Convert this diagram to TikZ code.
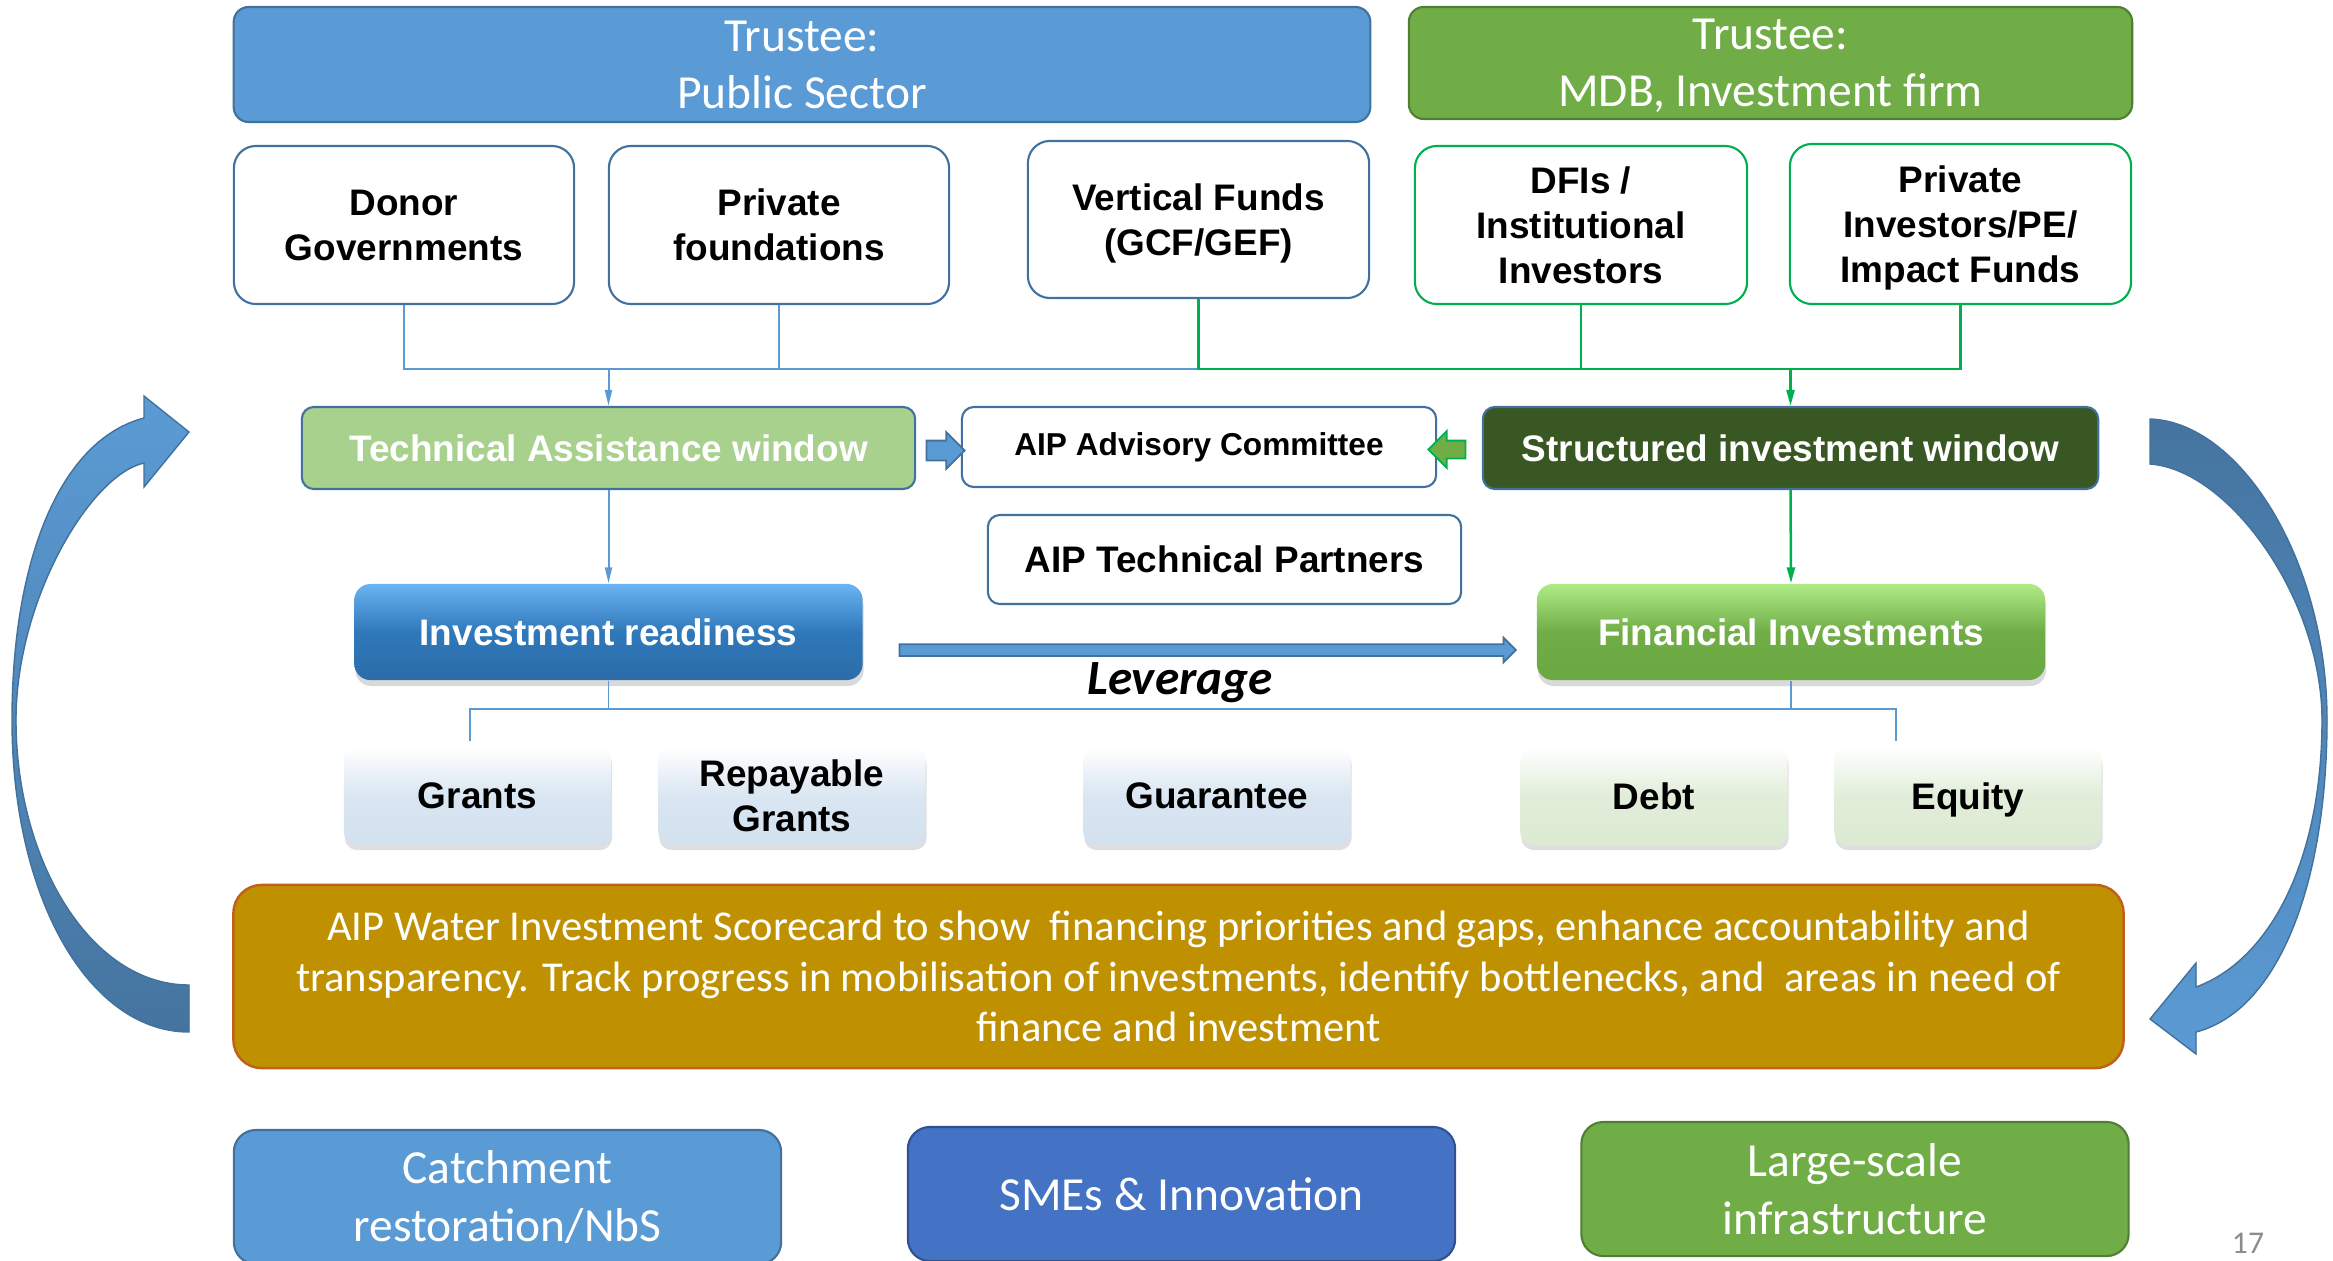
\documentclass[tikz,border=0pt]{standalone}
\usepackage{fontspec}
\setmainfont{Liberation Sans}
\newfontfamily\calibri{Carlito}
\usetikzlibrary{arrows.meta,shapes.arrows,shadows,calc}

\definecolor{pubblue}{HTML}{5B9BD5}
\definecolor{pubedge}{HTML}{41719C}
\definecolor{mdbgreen}{HTML}{70AD47}
\definecolor{mdbedge}{HTML}{507E32}
\definecolor{srcgreen}{HTML}{00B050}
\definecolor{tafill}{HTML}{A9D18E}
\definecolor{sifill}{HTML}{385723}
\definecolor{cardfill}{HTML}{BF9000}
\definecolor{cardedge}{HTML}{C0601A}
\definecolor{smeblue}{HTML}{4472C4}
\definecolor{smeedge}{HTML}{2F528F}
\definecolor{curvedark}{HTML}{45749F}
\definecolor{tileblue}{HTML}{D3E1EF}
\definecolor{tilegreen}{HTML}{DCEAD2}
\definecolor{readytop}{HTML}{6BB3F2}
\definecolor{readymid}{HTML}{2F78BA}
\definecolor{readybot}{HTML}{2C6CA9}
\definecolor{fintop}{HTML}{B0EC86}
\definecolor{finbot}{HTML}{6AA842}
\definecolor{pagegray}{HTML}{8C8C8C}

\begin{document}
\begin{tikzpicture}[x=0.01cm, y=-0.01cm,
  trustbox/.style={rounded corners=0.15cm, line width=0.6pt, text=white, align=center, inner sep=0pt, text depth=0pt, font=\calibri\fontsize{13.5}{16.2}\selectfont},
  srcbox/.style={draw=pubedge, fill=white, rounded corners=0.22cm, line width=0.6pt, align=center, inner sep=0pt, text depth=0pt, minimum width=3.4cm, minimum height=1.58cm, font=\bfseries\fontsize{10.5}{12.8}\selectfont},
  winbox/.style={draw=pubedge, rounded corners=0.12cm, line width=0.6pt, align=center, inner sep=0pt, minimum height=0.81cm, font=\bfseries\fontsize{10.5}{12.8}\selectfont},
  bevel/.style={rounded corners=0.16cm, align=center, inner sep=0pt, minimum width=5.08cm, minimum height=0.96cm, text=white, font=\bfseries\fontsize{10.5}{12.8}\selectfont, drop shadow={shadow xshift=0.01cm, shadow yshift=-0.06cm, opacity=0.3}},
  tile/.style={rounded corners=0.12cm, align=center, inner sep=0pt, text depth=0pt, minimum width=2.67cm, minimum height=0.98cm, font=\bfseries\fontsize{10.5}{12.8}\selectfont, drop shadow={shadow xshift=0.01cm, shadow yshift=-0.05cm, opacity=0.25}},
  bluetile/.style={tile, top color=white, bottom color=tileblue, middle color=tileblue!85!white},
  greentile/.style={tile, top color=white, bottom color=tilegreen, middle color=tilegreen!85!white},
  outbox/.style={rounded corners=0.22cm, line width=0.6pt, text=white, align=center, inner sep=0pt, minimum width=5.47cm, minimum height=1.34cm, font=\calibri\fontsize{13.5}{16.5}\selectfont},
  bline/.style={draw=pubblue, line width=0.02cm},
  gline/.style={draw=srcgreen, line width=0.025cm},
  tline/.style={draw=pubblue, line width=0.015cm},
  blockarr/.style={single arrow, inner xsep=0pt, line width=0.5pt},
  bigcurve/.style={draw=pubedge, line width=0.4pt}
]

\begin{scope}[scale=1]

\useasboundingbox (0,0) rectangle (2333,1260);

\node[trustbox, fill=pubblue, draw=pubedge, minimum width=11.36cm, minimum height=1.15cm] (pubtrust) at (802,64.5) {Trustee:\\Public Sector};
\node[trustbox, fill=mdbgreen, draw=mdbedge, minimum width=7.23cm, minimum height=1.12cm] (mdbtrust) at (1770.5,63) {Trustee:\\MDB, Investment firm};

\foreach \nm/\cx/\txt in {donor/404/{Donor\\Governments}, privfound/779/{Private\\foundations}}
\node[srcbox] (\nm) at (\cx,225) {\txt};
\node[srcbox, minimum width=3.41cm, minimum height=1.57cm] (vertical) at (1198.5,219.5) {Vertical Funds\\(GCF/GEF)};
\node[srcbox, draw=srcgreen, minimum width=3.32cm] (dfi) at (1581,225) {DFIs /\\Institutional\\Investors};
\node[srcbox, draw=srcgreen, minimum width=3.41cm, minimum height=1.6cm] (privinv) at (1960.5,224) {Private\\Investors/PE/\\Impact Funds};

\coordinate (bus) at (0,369);
\draw[bline] (donor.south) |- (vertical.south |- bus);
\draw[bline] (privfound.south) -- (privfound.south |- bus);
\draw[gline] (vertical.south) |- (privinv.south |- bus) -- (privinv.south);
\draw[gline] (dfi.south) -- (dfi.south |- bus);

\node[winbox, fill=tafill, text=white, minimum width=6.13cm, minimum height=0.82cm] (tawin) at (608.5,448) {Technical Assistance window};
\node[winbox, fill=white, minimum width=4.74cm, minimum height=0.8cm, font=\bfseries\fontsize{9}{11}\selectfont] (advisory) at (1199,447) {AIP Advisory Committee};
\node[winbox, fill=sifill, text=white, minimum width=6.15cm, minimum height=0.82cm] (siwin) at (1790.5,448) {Structured investment window};

\draw[bline, -{Triangle[length=0.16cm, width=0.07cm]}] (tawin.north |- bus) -- (tawin.north);
\draw[gline, -{Triangle[length=0.16cm, width=0.08cm]}] (siwin.north |- bus) -- (siwin.north);

\node[blockarr, draw=pubedge, fill=pubblue, inner ysep=0.09cm, single arrow head extend=0.085cm, minimum height=0.38cm, anchor=tip] (taarrow) at ([xshift=0.05cm, yshift=-0.035cm]advisory.west) {};
\node[blockarr, draw=srcgreen, fill=mdbgreen, inner ysep=0.08cm, single arrow head extend=0.095cm, minimum height=0.37cm, shape border rotate=180, anchor=tip] (siarrow) at ([xshift=-0.1cm, yshift=-0.025cm]advisory.east) {};

\node[winbox, fill=white, minimum width=4.73cm, minimum height=0.89cm] (techpart) at (1224.5,559.5) {AIP Technical Partners};

\node[bevel, top color=readytop, bottom color=readybot, middle color=readymid] (readiness) at (608.5,632) {Investment readiness};
\node[bevel, top color=fintop, bottom color=finbot, middle color=mdbgreen] (fininv) at (1791,632) {Financial Investments};

\draw[bline, -{Triangle[length=0.16cm, width=0.07cm]}] (tawin.south) -- (readiness.north);
\draw[gline, -{Triangle[length=0.16cm, width=0.08cm]}] (siwin.south) -- (fininv.north);

\node[blockarr, draw=pubedge, fill=pubblue, inner ysep=0.05cm, single arrow head extend=0.065cm, minimum height=6.16cm] (leverage) at ($(readiness.east)!0.5!(fininv.west)+(5,18)$) {};
\node[font=\calibri\bfseries\itshape\fontsize{14}{16}\selectfont, inner sep=0pt] (levlabel) at (1180,683) {Leverage};

\coordinate (treeleft) at (470,709);
\coordinate (treeright) at (1896,709);
\coordinate (legleft) at (470,741);
\coordinate (legright) at (1896,741);
\draw[tline] (legleft) -- (treeleft) -- (treeright) -- (legright);
\draw[tline] (readiness.south) -- (readiness.south |- treeleft);
\draw[tline] (fininv.south) -- (fininv.south |- treeright);

\foreach \nm/\cx/\txt/\sty in {grants/477.5/Grants/bluetile, repay/792/{Repayable\\Grants}/bluetile, guarantee/1217/Guarantee/bluetile, debt/1654/Debt/greentile, equity/1968/Equity/greentile}
\node[\sty] (\nm) at (\cx,796) {\txt};

\node[draw=cardedge, fill=cardfill, line width=0.7pt, rounded corners=0.28cm, minimum width=18.89cm, minimum height=1.83cm, inner sep=0pt, align=center, text=white, font=\calibri\fontsize{12.1}{14.3}\selectfont] (scorecard) at (1178.5,976.5) {AIP Water Investment Scorecard to show\ \ financing priorities and gaps, enhance accountability and\\transparency. Track progress in mobilisation of investments, identify bottlenecks, and\ \ areas in need of\\finance and investment};

\fill[bigcurve, top color=pubblue, bottom color=curvedark] (189,1032) .. controls (90,1032) and (12,900) .. (12,720) .. controls (12,560) and (60,440) .. (144,418) -- (144,396) -- (189,432) -- (144,487) -- (144,463) .. controls (90,475) and (16,600) .. (16,720) .. controls (16,860) and (90,985) .. (189,985) -- cycle;
\fill[bigcurve, top color=curvedark, bottom color=pubblue] (2150,419) .. controls (2240,422) and (2327,560) .. (2327,720) .. controls (2327,880) and (2280,1010) .. (2196,1032) -- (2196,1054) -- (2150,1019) -- (2196,963) -- (2196,987) .. controls (2270,960) and (2322,860) .. (2322,720) .. controls (2322,600) and (2230,470) .. (2150,464) -- cycle;

\node[outbox, fill=pubblue, draw=pubedge] (catchment) at (507.5,1197) {Catchment\\restoration/NbS};
\node[outbox, fill=smeblue, draw=smeedge] (smes) at (1181.5,1194) {SMEs \& Innovation};
\node[outbox, fill=mdbgreen, draw=mdbedge] (largescale) at (1855,1189) {Large-scale\\infrastructure};

\node[text=pagegray, font=\calibri\fontsize{9}{11}\selectfont, inner sep=0pt] (pagenum) at (2248,1243) {17};

\end{scope}

\end{tikzpicture}
\end{document}
